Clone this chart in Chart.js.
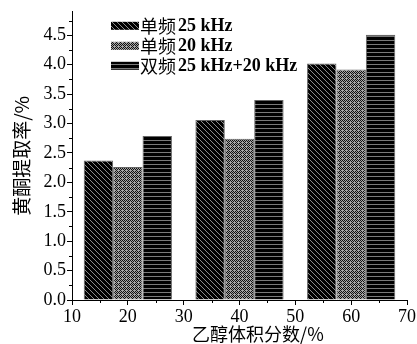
<!DOCTYPE html>
<html>
<head>
<meta charset="utf-8">
<script src="https://cdn.jsdelivr.net/npm/chart.js@4/dist/chart.umd.min.js"></script>
<style>
  html, body { margin: 0; padding: 0; background: #fff; }
  #wrap { width: 417px; height: 344px; position: relative; }
</style>
</head>
<body>
<div id="wrap"><canvas id="c" width="417" height="344"></canvas></div>
<script>
// Ethanol volume fraction (%) for each group of bars
const ethanolPct = [20, 40, 60];
// Flavonoid extraction rate (%) per ultrasound mode
const single25 = [2.37, 3.06, 4.02];
const single20 = [2.26, 2.74, 3.92];
const dual25_20 = [2.79, 3.40, 4.51];
const seriesLabels = ['单频 25 kHz', '单频 20 kHz', '双频 25 kHz+20 kHz'];
// Axis tick values and titles
const xTicks = [10, 20, 30, 40, 50, 60, 70];
const yTicks = [0.0, 0.5, 1.0, 1.5, 2.0, 2.5, 3.0, 3.5, 4.0, 4.5];
const xTitle = '乙醇体积分数/%';
const yTitle = '黄酮提取率/%';

// Fill patterns for the three series
function makeTile(w, h, draw) {
  const cv = document.createElement('canvas');
  cv.width = w; cv.height = h;
  const g = cv.getContext('2d');
  draw(g, w, h);
  return g.createPattern(cv, 'repeat');
}
const ctx = document.getElementById('c').getContext('2d');
const diagPattern = makeTile(5, 5, (g, w, h) => {
  g.fillStyle = '#000'; g.fillRect(0, 0, w, h);
  g.fillStyle = '#8a8a8a';
  for (let i = 0; i < w; i++) g.fillRect(i, i, 1, 1);
});
const crossPattern = makeTile(4, 4, (g, w, h) => {
  g.fillStyle = '#a4a4a4'; g.fillRect(0, 0, w, h);
  g.fillStyle = '#111';
  g.fillRect(0, 0, 1, 1); g.fillRect(2, 0, 1, 1);
  g.fillRect(1, 1, 1, 1); g.fillRect(3, 1, 1, 1);
  g.fillRect(0, 2, 1, 1);
  g.fillRect(3, 3, 1, 1); g.fillRect(1, 3, 1, 1);
});
const horizPattern = makeTile(4, 4, (g, w, h) => {
  g.fillStyle = '#000'; g.fillRect(0, 0, w, h);
  g.fillStyle = '#7a7a7a'; g.fillRect(0, 0, w, 1);
});

const serifFont = "'Liberation Serif', 'DejaVu Serif', serif";
const cjkFont = "'Noto Sans CJK SC', sans-serif";

// Minor ticks, axis titles and the legend box
const decorations = {
  id: 'decorations',
  afterDraw(chart) {
    const c = chart.ctx;
    const xs = chart.scales.x, ys = chart.scales.y;
    c.save();
    c.strokeStyle = '#000';
    c.lineWidth = 1;
    // y minor ticks
    const ystep = yTicks[1] - yTicks[0];
    for (let i = 0; i < yTicks.length; i++) {
      const v = yTicks[i] + ystep / 2;
      if (v > ys.max) continue;
      const py = Math.round(ys.getPixelForValue(v)) + 0.5;
      c.beginPath(); c.moveTo(xs.left - 3, py); c.lineTo(xs.left, py); c.stroke();
    }
    // x minor ticks
    const xstep = xTicks[1] - xTicks[0];
    for (let i = 0; i < xTicks.length - 1; i++) {
      const v = xTicks[i] + xstep / 2;
      const px = Math.round(xs.getPixelForValue(v)) + 0.5;
      c.beginPath(); c.moveTo(px, ys.bottom); c.lineTo(px, ys.bottom + 3); c.stroke();
    }
    // axis titles
    c.fillStyle = '#000';
    c.textAlign = 'center';
    c.textBaseline = 'middle';
    c.font = "18px " + cjkFont;
    c.fillText(xTitle, xs.left + (xs.right - xs.left) * 0.555, 334);
    c.save();
    c.translate(22, ys.top + (ys.bottom - ys.top) * 0.5);
    c.rotate(-Math.PI / 2);
    c.font = "19px " + cjkFont;
    c.fillText(yTitle, 0, 0);
    c.restore();
    // legend
    c.textAlign = 'left';
    const lx = chart.chartArea.left + 39;
    let ly = chart.chartArea.top + 10;
    chart.data.datasets.forEach((ds) => {
      c.fillStyle = ds.backgroundColor;
      c.fillRect(lx, ly, 28, 8);
      c.fillStyle = '#000';
      c.textBaseline = 'middle';
      const parts = ds.label.split(' ');
      const cjk = parts[0];
      const rest = parts.slice(1).join(' ');
      c.font = "18px " + cjkFont;
      c.fillText(cjk, lx + 29, ly + 4);
      const w = c.measureText(cjk).width;
      c.font = "bold 18px " + serifFont;
      c.fillText(rest, lx + 29 + w + 2, ly + 5);
      ly += 20;
    });
    c.restore();
  }
};

new Chart(ctx, {
  type: 'bar',
  data: {
    datasets: [
      { label: seriesLabels[0], data: ethanolPct.map((x, i) => ({ x, y: single25[i] })), backgroundColor: diagPattern },
      { label: seriesLabels[1], data: ethanolPct.map((x, i) => ({ x, y: single20[i] })), backgroundColor: crossPattern },
      { label: seriesLabels[2], data: ethanolPct.map((x, i) => ({ x, y: dual25_20[i] })), backgroundColor: horizPattern }
    ].map(d => Object.assign(d, {
      // the bar ruler uses the 10-unit tick spacing, so a group spans ~1.58 of it
      borderColor: '#666', borderWidth: 1, barPercentage: 1.0, categoryPercentage: 1.58
    }))
  },
  options: {
    responsive: false,
    animation: false,
    layout: { padding: { top: 9, right: 9, left: 0, bottom: 0 } },
    plugins: { legend: { display: false }, tooltip: { enabled: false } },
    scales: {
      x: {
        type: 'linear', min: 10, max: 70, offset: false,
        afterBuildTicks: s => { s.ticks = xTicks.map(v => ({ value: v })); },
        afterFit: s => { s.height = 44; },
        grid: { display: true, drawOnChartArea: false, offset: false, tickLength: 5, color: '#000' },
        border: { display: true, color: '#000', width: 1 },
        ticks: { color: '#000', font: { family: serifFont, size: 18 }, padding: 1, maxRotation: 0 }
      },
      y: {
        min: 0, max: 4.9,
        afterBuildTicks: s => { s.ticks = yTicks.map(v => ({ value: v })); },
        afterFit: s => { s.width = 72; },
        grid: { display: true, drawOnChartArea: false, tickLength: 5, color: '#000' },
        border: { display: true, color: '#000', width: 1 },
        ticks: { color: '#000', font: { family: serifFont, size: 18 }, padding: 1, callback: v => v.toFixed(1) }
      }
    }
  },
  plugins: [decorations]
});
</script>
</body>
</html>
